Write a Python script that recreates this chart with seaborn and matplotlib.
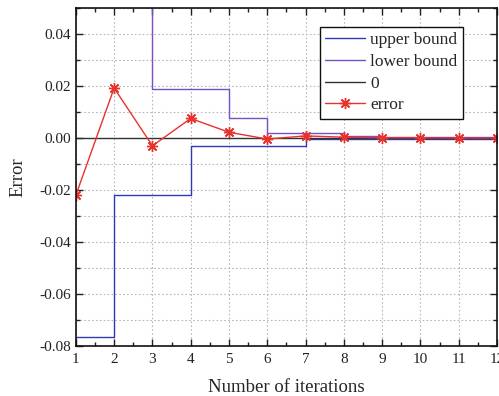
import matplotlib
matplotlib.use("Agg")
import matplotlib.pyplot as plt
import seaborn as sns
import numpy as np
import pandas as pd
from matplotlib.ticker import MultipleLocator

iterations = [1, 2, 3, 4, 5, 6, 7, 8, 9, 10, 11, 12]
upper_bound = [-0.0765, -0.022, -0.022, -0.003, -0.003, -0.003, -0.0005, -0.0004, -0.0003, -0.0002, -0.0002, -0.0002]
lower_bound = [0.08, 0.08, 0.019, 0.019, 0.0075, 0.0019, 0.0019, 0.0006, 0.0004, 0.0003, 0.0002, 0.0002]
zero_line = [0] * 12
error = [-0.022, 0.0192, -0.003, 0.0075, 0.0022, -0.0004, 0.0008, 0.0003, 0.0001, 0.0001, 0.0, 0.0]

df = pd.DataFrame({"n": iterations, "upper": upper_bound, "lower": lower_bound,
                   "zero": zero_line, "error": error})

sns.set_style("white")
plt.rcParams["font.family"] = ["Liberation Serif", "DejaVu Serif"]

fig = plt.figure(figsize=(4.99, 3.96), dpi=100)
ax = fig.add_axes([0.152, 0.126, 0.844, 0.854])

sns.lineplot(data=df, x="n", y="upper", ax=ax, color="#2b3db3", lw=1.0,
             drawstyle="steps-post", label="upper bound")
sns.lineplot(data=df, x="n", y="lower", ax=ax, color="#7452c6", lw=1.0,
             drawstyle="steps-post", label="lower bound")
sns.lineplot(data=df, x="n", y="zero", ax=ax, color="#333333", lw=1.0, label="0")
sns.lineplot(data=df, x="n", y="error", ax=ax, color="#e8322d", lw=1.0,
             marker=(8, 2, 0), markersize=8, markeredgewidth=1.0,
             markeredgecolor="#e8322d", label="error")

ax.set_xlim(1, 12)
ax.set_ylim(-0.08, 0.05)
ax.xaxis.set_major_locator(MultipleLocator(1))
ax.xaxis.set_minor_locator(MultipleLocator(0.5))
ax.yaxis.set_minor_locator(MultipleLocator(0.01))
ax.set_yticks([-0.08, -0.06, -0.04, -0.02, 0.0, 0.02, 0.04])
ax.set_yticklabels(["-0.08", "-0.06", "-0.04", "-0.02", "0.00", "0.02", "0.04"])

ax.grid(which="major", axis="x", color="#b8b8b8", ls=(0, (1.5, 2)), lw=0.8)
ax.grid(which="both", axis="y", color="#b8b8b8", ls=(0, (1.5, 2)), lw=0.8)
ax.set_axisbelow(True)

ax.tick_params(which="both", direction="in", top=True, right=True,
               bottom=True, left=True, labelsize=11, colors="#222222")
ax.tick_params(which="major", length=5, width=1.0)
ax.tick_params(which="minor", length=3, width=1.0)
ax.tick_params(axis="x", pad=5)
for s in ax.spines.values():
    s.set_color("#111111")
    s.set_linewidth(1.2)

ax.set_xlabel("Number of iterations", fontsize=13.5, labelpad=9)
ax.set_ylabel("Error", fontsize=13.5, labelpad=9)

leg = ax.legend(loc="upper right", bbox_to_anchor=(0.919, 0.944), fontsize=12.5,
                frameon=True, fancybox=False, framealpha=1, edgecolor="#111111",
                borderpad=0.3, labelspacing=0.32, handlelength=2.3,
                handletextpad=0.3, borderaxespad=0)
leg.get_frame().set_linewidth(1.0)

fig.savefig("out.png", dpi=100)
